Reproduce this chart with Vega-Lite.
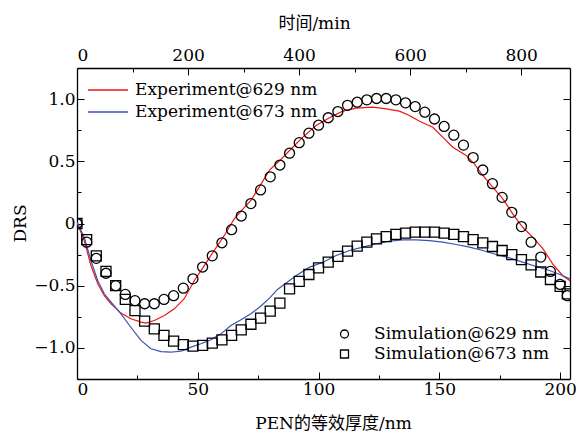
{
  "$schema": "https://vega.github.io/schema/vega-lite/v6.json",
  "width": 493,
  "height": 311,
  "autosize": {"type": "none"},
  "padding": {"left": 77, "top": 68, "right": 6, "bottom": 53},
  "background": "white",
  "config": {
    "view": {"stroke": null},
    "font": "DejaVu Serif",
    "axis": {
      "grid": false,
      "domainColor": "black",
      "domainWidth": 1.3,
      "tickColor": "black",
      "tickWidth": 1,
      "labelFont": "DejaVu Serif",
      "labelFontSize": 17,
      "labelColor": "black",
      "titleFontSize": 17,
      "titleFontWeight": "normal",
      "titleColor": "black"
    },
    "legend": {
      "labelFont": "DejaVu Serif",
      "labelFontSize": 17,
      "labelColor": "black",
      "labelLimit": 0,
      "padding": 0,
      "rowPadding": 0
    }
  },
  "datasets": {
    "lines": [
      {"nm": 0, "v": 0.01, "series": "Experiment@629 nm"},
      {"nm": 3, "v": -0.137, "series": "Experiment@629 nm"},
      {"nm": 5.8, "v": -0.34, "series": "Experiment@629 nm"},
      {"nm": 8.6, "v": -0.485, "series": "Experiment@629 nm"},
      {"nm": 11.3, "v": -0.58, "series": "Experiment@629 nm"},
      {"nm": 14.1, "v": -0.645, "series": "Experiment@629 nm"},
      {"nm": 18.2, "v": -0.72, "series": "Experiment@629 nm"},
      {"nm": 22.3, "v": -0.766, "series": "Experiment@629 nm"},
      {"nm": 26.5, "v": -0.793, "series": "Experiment@629 nm"},
      {"nm": 28.5, "v": -0.8, "series": "Experiment@629 nm"},
      {"nm": 32, "v": -0.78, "series": "Experiment@629 nm"},
      {"nm": 36.2, "v": -0.74, "series": "Experiment@629 nm"},
      {"nm": 40.3, "v": -0.686, "series": "Experiment@629 nm"},
      {"nm": 44.4, "v": -0.605, "series": "Experiment@629 nm"},
      {"nm": 48.6, "v": -0.458, "series": "Experiment@629 nm"},
      {"nm": 52.7, "v": -0.338, "series": "Experiment@629 nm"},
      {"nm": 56.8, "v": -0.217, "series": "Experiment@629 nm"},
      {"nm": 61, "v": -0.096, "series": "Experiment@629 nm"},
      {"nm": 65.1, "v": 0.037, "series": "Experiment@629 nm"},
      {"nm": 69.3, "v": 0.13, "series": "Experiment@629 nm"},
      {"nm": 72, "v": 0.185, "series": "Experiment@629 nm"},
      {"nm": 76, "v": 0.31, "series": "Experiment@629 nm"},
      {"nm": 79.7, "v": 0.43, "series": "Experiment@629 nm"},
      {"nm": 83.9, "v": 0.506, "series": "Experiment@629 nm"},
      {"nm": 88, "v": 0.587, "series": "Experiment@629 nm"},
      {"nm": 93.5, "v": 0.694, "series": "Experiment@629 nm"},
      {"nm": 99, "v": 0.788, "series": "Experiment@629 nm"},
      {"nm": 104.5, "v": 0.85, "series": "Experiment@629 nm"},
      {"nm": 110, "v": 0.903, "series": "Experiment@629 nm"},
      {"nm": 115.6, "v": 0.927, "series": "Experiment@629 nm"},
      {"nm": 122.5, "v": 0.935, "series": "Experiment@629 nm"},
      {"nm": 128, "v": 0.922, "series": "Experiment@629 nm"},
      {"nm": 133.5, "v": 0.903, "series": "Experiment@629 nm"},
      {"nm": 137.6, "v": 0.868, "series": "Experiment@629 nm"},
      {"nm": 141.8, "v": 0.822, "series": "Experiment@629 nm"},
      {"nm": 147.3, "v": 0.774, "series": "Experiment@629 nm"},
      {"nm": 151.4, "v": 0.694, "series": "Experiment@629 nm"},
      {"nm": 155.6, "v": 0.613, "series": "Experiment@629 nm"},
      {"nm": 161.1, "v": 0.547, "series": "Experiment@629 nm"},
      {"nm": 164.5, "v": 0.48, "series": "Experiment@629 nm"},
      {"nm": 168, "v": 0.386, "series": "Experiment@629 nm"},
      {"nm": 172.1, "v": 0.292, "series": "Experiment@629 nm"},
      {"nm": 176.3, "v": 0.198, "series": "Experiment@629 nm"},
      {"nm": 180.4, "v": 0.078, "series": "Experiment@629 nm"},
      {"nm": 184.5, "v": -0.03, "series": "Experiment@629 nm"},
      {"nm": 188.7, "v": -0.11, "series": "Experiment@629 nm"},
      {"nm": 192.8, "v": -0.2, "series": "Experiment@629 nm"},
      {"nm": 196.9, "v": -0.324, "series": "Experiment@629 nm"},
      {"nm": 201, "v": -0.418, "series": "Experiment@629 nm"},
      {"nm": 204.1, "v": -0.46, "series": "Experiment@629 nm"},
      {"nm": 0, "v": 0.01, "series": "Experiment@673 nm"},
      {"nm": 3, "v": -0.11, "series": "Experiment@673 nm"},
      {"nm": 5.8, "v": -0.3, "series": "Experiment@673 nm"},
      {"nm": 8.6, "v": -0.46, "series": "Experiment@673 nm"},
      {"nm": 11.3, "v": -0.565, "series": "Experiment@673 nm"},
      {"nm": 14.1, "v": -0.632, "series": "Experiment@673 nm"},
      {"nm": 18.2, "v": -0.726, "series": "Experiment@673 nm"},
      {"nm": 22.3, "v": -0.834, "series": "Experiment@673 nm"},
      {"nm": 26.5, "v": -0.94, "series": "Experiment@673 nm"},
      {"nm": 30.6, "v": -1.007, "series": "Experiment@673 nm"},
      {"nm": 34.8, "v": -1.03, "series": "Experiment@673 nm"},
      {"nm": 38.9, "v": -1.034, "series": "Experiment@673 nm"},
      {"nm": 43, "v": -1.027, "series": "Experiment@673 nm"},
      {"nm": 47.2, "v": -0.994, "series": "Experiment@673 nm"},
      {"nm": 51.3, "v": -0.967, "series": "Experiment@673 nm"},
      {"nm": 55.4, "v": -0.935, "series": "Experiment@673 nm"},
      {"nm": 59.6, "v": -0.887, "series": "Experiment@673 nm"},
      {"nm": 63.7, "v": -0.82, "series": "Experiment@673 nm"},
      {"nm": 67.9, "v": -0.774, "series": "Experiment@673 nm"},
      {"nm": 72, "v": -0.726, "series": "Experiment@673 nm"},
      {"nm": 76, "v": -0.665, "series": "Experiment@673 nm"},
      {"nm": 79.7, "v": -0.6, "series": "Experiment@673 nm"},
      {"nm": 83, "v": -0.53, "series": "Experiment@673 nm"},
      {"nm": 85.2, "v": -0.498, "series": "Experiment@673 nm"},
      {"nm": 90.8, "v": -0.418, "series": "Experiment@673 nm"},
      {"nm": 96.3, "v": -0.351, "series": "Experiment@673 nm"},
      {"nm": 101.8, "v": -0.311, "series": "Experiment@673 nm"},
      {"nm": 107.3, "v": -0.257, "series": "Experiment@673 nm"},
      {"nm": 112.8, "v": -0.217, "series": "Experiment@673 nm"},
      {"nm": 118.3, "v": -0.19, "series": "Experiment@673 nm"},
      {"nm": 123.9, "v": -0.163, "series": "Experiment@673 nm"},
      {"nm": 129.4, "v": -0.142, "series": "Experiment@673 nm"},
      {"nm": 134.9, "v": -0.131, "series": "Experiment@673 nm"},
      {"nm": 140.4, "v": -0.131, "series": "Experiment@673 nm"},
      {"nm": 145.9, "v": -0.137, "series": "Experiment@673 nm"},
      {"nm": 151.4, "v": -0.15, "series": "Experiment@673 nm"},
      {"nm": 157, "v": -0.169, "series": "Experiment@673 nm"},
      {"nm": 162.5, "v": -0.19, "series": "Experiment@673 nm"},
      {"nm": 168, "v": -0.217, "series": "Experiment@673 nm"},
      {"nm": 173.5, "v": -0.249, "series": "Experiment@673 nm"},
      {"nm": 179, "v": -0.276, "series": "Experiment@673 nm"},
      {"nm": 184.5, "v": -0.311, "series": "Experiment@673 nm"},
      {"nm": 190.1, "v": -0.346, "series": "Experiment@673 nm"},
      {"nm": 195.6, "v": -0.378, "series": "Experiment@673 nm"},
      {"nm": 201, "v": -0.418, "series": "Experiment@673 nm"},
      {"nm": 204.1, "v": -0.445, "series": "Experiment@673 nm"}
    ],
    "points": [
      {"nm": 0, "v": 0.0, "series": "Simulation@629 nm"},
      {"nm": 4, "v": -0.15, "series": "Simulation@629 nm"},
      {"nm": 8, "v": -0.28, "series": "Simulation@629 nm"},
      {"nm": 12, "v": -0.4, "series": "Simulation@629 nm"},
      {"nm": 16, "v": -0.5, "series": "Simulation@629 nm"},
      {"nm": 20, "v": -0.57, "series": "Simulation@629 nm"},
      {"nm": 24, "v": -0.62, "series": "Simulation@629 nm"},
      {"nm": 28, "v": -0.645, "series": "Simulation@629 nm"},
      {"nm": 32, "v": -0.645, "series": "Simulation@629 nm"},
      {"nm": 36, "v": -0.61, "series": "Simulation@629 nm"},
      {"nm": 40, "v": -0.58, "series": "Simulation@629 nm"},
      {"nm": 44, "v": -0.52, "series": "Simulation@629 nm"},
      {"nm": 48, "v": -0.445, "series": "Simulation@629 nm"},
      {"nm": 52, "v": -0.35, "series": "Simulation@629 nm"},
      {"nm": 56, "v": -0.26, "series": "Simulation@629 nm"},
      {"nm": 60, "v": -0.155, "series": "Simulation@629 nm"},
      {"nm": 64, "v": -0.05, "series": "Simulation@629 nm"},
      {"nm": 68, "v": 0.06, "series": "Simulation@629 nm"},
      {"nm": 72, "v": 0.16, "series": "Simulation@629 nm"},
      {"nm": 76, "v": 0.27, "series": "Simulation@629 nm"},
      {"nm": 80, "v": 0.375, "series": "Simulation@629 nm"},
      {"nm": 84, "v": 0.47, "series": "Simulation@629 nm"},
      {"nm": 88, "v": 0.565, "series": "Simulation@629 nm"},
      {"nm": 92, "v": 0.65, "series": "Simulation@629 nm"},
      {"nm": 96, "v": 0.726, "series": "Simulation@629 nm"},
      {"nm": 100, "v": 0.79, "series": "Simulation@629 nm"},
      {"nm": 104, "v": 0.85, "series": "Simulation@629 nm"},
      {"nm": 108, "v": 0.9, "series": "Simulation@629 nm"},
      {"nm": 112, "v": 0.95, "series": "Simulation@629 nm"},
      {"nm": 116, "v": 0.975, "series": "Simulation@629 nm"},
      {"nm": 120, "v": 0.994, "series": "Simulation@629 nm"},
      {"nm": 124, "v": 1.005, "series": "Simulation@629 nm"},
      {"nm": 128, "v": 1.005, "series": "Simulation@629 nm"},
      {"nm": 132, "v": 0.994, "series": "Simulation@629 nm"},
      {"nm": 136, "v": 0.97, "series": "Simulation@629 nm"},
      {"nm": 140, "v": 0.94, "series": "Simulation@629 nm"},
      {"nm": 144, "v": 0.895, "series": "Simulation@629 nm"},
      {"nm": 148, "v": 0.84, "series": "Simulation@629 nm"},
      {"nm": 152, "v": 0.78, "series": "Simulation@629 nm"},
      {"nm": 156, "v": 0.71, "series": "Simulation@629 nm"},
      {"nm": 160, "v": 0.63, "series": "Simulation@629 nm"},
      {"nm": 164, "v": 0.53, "series": "Simulation@629 nm"},
      {"nm": 168, "v": 0.43, "series": "Simulation@629 nm"},
      {"nm": 172, "v": 0.32, "series": "Simulation@629 nm"},
      {"nm": 176, "v": 0.21, "series": "Simulation@629 nm"},
      {"nm": 180, "v": 0.09, "series": "Simulation@629 nm"},
      {"nm": 184, "v": -0.025, "series": "Simulation@629 nm"},
      {"nm": 188, "v": -0.15, "series": "Simulation@629 nm"},
      {"nm": 192, "v": -0.27, "series": "Simulation@629 nm"},
      {"nm": 196, "v": -0.385, "series": "Simulation@629 nm"},
      {"nm": 200, "v": -0.49, "series": "Simulation@629 nm"},
      {"nm": 203, "v": -0.58, "series": "Simulation@629 nm"},
      {"nm": 0, "v": 0.0, "series": "Simulation@673 nm"},
      {"nm": 4, "v": -0.13, "series": "Simulation@673 nm"},
      {"nm": 8, "v": -0.26, "series": "Simulation@673 nm"},
      {"nm": 12, "v": -0.385, "series": "Simulation@673 nm"},
      {"nm": 16, "v": -0.5, "series": "Simulation@673 nm"},
      {"nm": 20, "v": -0.61, "series": "Simulation@673 nm"},
      {"nm": 24, "v": -0.7, "series": "Simulation@673 nm"},
      {"nm": 28, "v": -0.785, "series": "Simulation@673 nm"},
      {"nm": 32, "v": -0.847, "series": "Simulation@673 nm"},
      {"nm": 36, "v": -0.9, "series": "Simulation@673 nm"},
      {"nm": 40, "v": -0.946, "series": "Simulation@673 nm"},
      {"nm": 44, "v": -0.973, "series": "Simulation@673 nm"},
      {"nm": 48, "v": -0.986, "series": "Simulation@673 nm"},
      {"nm": 52, "v": -0.98, "series": "Simulation@673 nm"},
      {"nm": 56, "v": -0.962, "series": "Simulation@673 nm"},
      {"nm": 60, "v": -0.935, "series": "Simulation@673 nm"},
      {"nm": 64, "v": -0.9, "series": "Simulation@673 nm"},
      {"nm": 68, "v": -0.855, "series": "Simulation@673 nm"},
      {"nm": 72, "v": -0.81, "series": "Simulation@673 nm"},
      {"nm": 76, "v": -0.76, "series": "Simulation@673 nm"},
      {"nm": 80, "v": -0.705, "series": "Simulation@673 nm"},
      {"nm": 84, "v": -0.64, "series": "Simulation@673 nm"},
      {"nm": 88, "v": -0.525, "series": "Simulation@673 nm"},
      {"nm": 92, "v": -0.466, "series": "Simulation@673 nm"},
      {"nm": 96, "v": -0.41, "series": "Simulation@673 nm"},
      {"nm": 100, "v": -0.356, "series": "Simulation@673 nm"},
      {"nm": 104, "v": -0.31, "series": "Simulation@673 nm"},
      {"nm": 108, "v": -0.265, "series": "Simulation@673 nm"},
      {"nm": 112, "v": -0.222, "series": "Simulation@673 nm"},
      {"nm": 116, "v": -0.182, "series": "Simulation@673 nm"},
      {"nm": 120, "v": -0.15, "series": "Simulation@673 nm"},
      {"nm": 124, "v": -0.123, "series": "Simulation@673 nm"},
      {"nm": 128, "v": -0.105, "series": "Simulation@673 nm"},
      {"nm": 132, "v": -0.088, "series": "Simulation@673 nm"},
      {"nm": 136, "v": -0.078, "series": "Simulation@673 nm"},
      {"nm": 140, "v": -0.07, "series": "Simulation@673 nm"},
      {"nm": 144, "v": -0.07, "series": "Simulation@673 nm"},
      {"nm": 148, "v": -0.07, "series": "Simulation@673 nm"},
      {"nm": 152, "v": -0.078, "series": "Simulation@673 nm"},
      {"nm": 156, "v": -0.088, "series": "Simulation@673 nm"},
      {"nm": 160, "v": -0.105, "series": "Simulation@673 nm"},
      {"nm": 164, "v": -0.129, "series": "Simulation@673 nm"},
      {"nm": 168, "v": -0.155, "series": "Simulation@673 nm"},
      {"nm": 172, "v": -0.185, "series": "Simulation@673 nm"},
      {"nm": 176, "v": -0.217, "series": "Simulation@673 nm"},
      {"nm": 180, "v": -0.25, "series": "Simulation@673 nm"},
      {"nm": 184, "v": -0.29, "series": "Simulation@673 nm"},
      {"nm": 188, "v": -0.332, "series": "Simulation@673 nm"},
      {"nm": 192, "v": -0.39, "series": "Simulation@673 nm"},
      {"nm": 196, "v": -0.45, "series": "Simulation@673 nm"},
      {"nm": 200, "v": -0.506, "series": "Simulation@673 nm"},
      {"nm": 203, "v": -0.565, "series": "Simulation@673 nm"}
    ],
    "timeaxis": [{"t": 0}, {"t": 888}]
  },
  "layer": [
    {
      "data": {"name": "lines"},
      "mark": {"type": "line", "strokeWidth": 1.2, "clip": true},
      "encoding": {
        "x": {
          "field": "nm", "type": "quantitative",
          "scale": {"domain": [0, 204.1], "nice": false, "zero": false},
          "axis": {
            "orient": "bottom",
            "title": "PEN的等效厚度/nm",
            "titleFont": "DejaVu Serif, Noto Sans CJK SC",
            "values": [0, 25, 50, 75, 100, 125, 150, 175, 200],
            "labelExpr": "datum.value % 50 == 0 ? datum.label : ''",
            "tickSize": {"condition": {"test": "datum.value % 50 != 0", "value": -4}, "value": -7},
            "labelPadding": 9,
            "titleX": 256, "titleY": 44, "titleBaseline": "middle", "titleAlign": "center"
          }
        },
        "y": {
          "field": "v", "type": "quantitative",
          "scale": {"domain": [-1.25, 1.25], "nice": false, "zero": false},
          "axis": {
            "orient": "left",
            "title": "DRS",
            "titleFont": "DejaVu Serif",
            "values": [-1, -0.75, -0.5, -0.25, 0, 0.25, 0.5, 0.75, 1],
            "labelExpr": "abs(datum.value % 0.5) > 0.01 ? '' : (datum.value == 0 ? '0' : format(datum.value, '.1f'))",
            "tickSize": {"condition": {"test": "abs(datum.value % 0.5) > 0.01", "value": -4}, "value": -7},
            "labelPadding": 9,
            "titleX": -57, "titleY": 155, "titleBaseline": "middle", "titleAlign": "center", "titleAngle": -90
          }
        },
        "color": {
          "field": "series", "type": "nominal",
          "scale": {"domain": ["Experiment@629 nm", "Experiment@673 nm"], "range": ["#f01414", "#3a52b2"]},
          "legend": {
            "orient": "none", "legendX": 10, "legendY": 11,
            "title": null,
            "symbolType": "stroke", "symbolSize": 1600, "symbolStrokeWidth": 1.3,
            "clipHeight": 22, "labelOffset": 6
          }
        }
      }
    },
    {
      "data": {"name": "points"},
      "mark": {"type": "point", "filled": false, "stroke": "black", "strokeWidth": 1.3, "size": 100, "opacity": 1, "clip": true},
      "encoding": {
        "x": {
          "field": "nm", "type": "quantitative",
          "scale": {"domain": [0, 204.1], "nice": false, "zero": false},
          "axis": null
        },
        "y": {
          "field": "v", "type": "quantitative",
          "scale": {"domain": [-1.25, 1.25], "nice": false, "zero": false},
          "axis": {
            "orient": "right",
            "title": null,
            "values": [-1, -0.75, -0.5, -0.25, 0, 0.25, 0.5, 0.75, 1],
            "labels": false,
            "tickSize": {"condition": {"test": "abs(datum.value % 0.5) > 0.01", "value": -4}, "value": -7}
          }
        },
        "shape": {
          "field": "series", "type": "nominal",
          "scale": {"domain": ["Simulation@629 nm", "Simulation@673 nm"], "range": ["circle", "square"]},
          "legend": {
            "orient": "none", "legendX": 259, "legendY": 256,
            "title": null,
            "symbolSize": 64, "symbolStrokeWidth": 1.3, "symbolStrokeColor": "black", "symbolFillColor": "transparent", "symbolOpacity": 1,
            "clipHeight": 20, "labelOffset": 21
          }
        }
      }
    },
    {
      "data": {"name": "timeaxis"},
      "mark": {"type": "point", "opacity": 0},
      "encoding": {
        "x": {
          "field": "t", "type": "quantitative",
          "scale": {"domain": [0, 888], "nice": false, "zero": false},
          "axis": {
            "orient": "top",
            "title": "时间/min",
            "titleFont": "DejaVu Serif, Noto Sans CJK SC",
            "values": [0, 100, 200, 300, 400, 500, 600, 700, 800],
            "labelExpr": "datum.value % 200 == 0 ? datum.label : ''",
            "tickSize": {"condition": {"test": "datum.value % 200 != 0", "value": -4}, "value": -7},
            "labelPadding": 11,
            "titleX": 237, "titleY": -45, "titleBaseline": "middle", "titleAlign": "center"
          }
        }
      }
    }
  ],
  "resolve": {"scale": {"x": "independent", "y": "independent", "color": "independent", "shape": "independent"}}
}
